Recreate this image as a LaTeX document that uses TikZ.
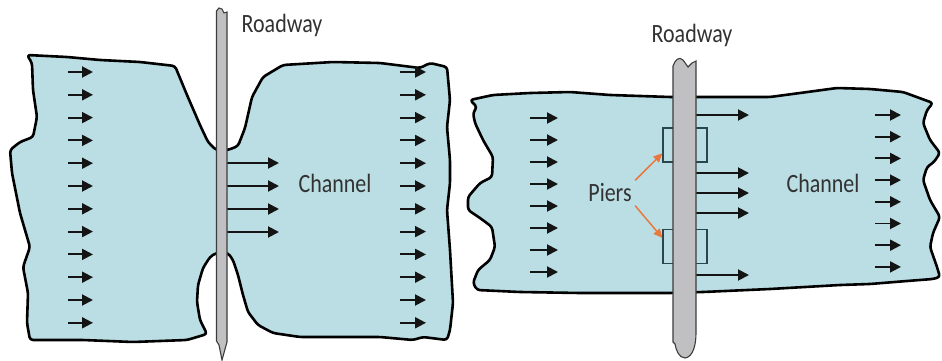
\documentclass[tikz,border=0pt]{standalone}
\usepackage{fontspec}
\setmainfont{Carlito}
\usepackage{graphicx}
\usetikzlibrary{positioning}
\usetikzlibrary{arrows.meta}

\definecolor{water}{RGB}{186,222,228}
\definecolor{roadgray}{RGB}{192,192,194}
\definecolor{roadedge}{RGB}{60,60,60}
\definecolor{pieredge}{RGB}{40,70,75}
\definecolor{flowink}{RGB}{20,20,20}
\definecolor{inkgray}{RGB}{50,50,50}
\definecolor{piersorange}{RGB}{232,120,60}

\newcommand{\tallword}[1]{\scalebox{1}[1.2]{#1}}

\tikzset{
  shore/.style={draw=black,line width=2.6pt,fill=water,rounded corners=3pt,line join=round},
  road/.style={draw=roadedge,line width=1.1pt,fill=roadgray},
  flow/.style={-{Triangle[length=11pt,width=11pt]},line width=1.9pt,draw=flowink},
  pier/.style={rectangle,draw=pieredge,line width=1.2pt,minimum width=44pt,minimum height=34pt,inner sep=0pt},
  tag/.style={text=inkgray,font=\fontsize{22}{24}\selectfont},
  pointer/.style={-{Triangle[length=9pt,width=8pt]},line width=1.5pt,draw=piersorange}
}

\begin{document}
\begin{tikzpicture}[x=1pt,y=-1pt]
  \useasboundingbox (0,0) rectangle (942,361);

  % contraction: channel narrowed by the embankments
  \draw[shore] (27,55) -- (67,57) -- (100,60) -- (140,62) -- (175,66) -- (187,95) -- (200,125) -- (208,142) -- (216,150)
    -- (228,150) -- (238,146) -- (245,128) -- (252,97) -- (263,77) -- (283,65) -- (333,62) -- (380,63) -- (420,68)
    -- (430,63) -- (447,67) -- (450,100) -- (447,127) -- (450,160) -- (450,183) -- (447,210) -- (450,250) -- (453,303)
    -- (450,330) -- (447,340) -- (423,337) -- (413,340) -- (380,337) -- (300,337) -- (273,333) -- (258,325) -- (248,312)
    -- (243,295) -- (238,275) -- (233,260) -- (228,253) -- (216,253) -- (210,257) -- (203,268) -- (198,285) -- (197,302)
    -- (200,320) -- (207,334) -- (187,340) -- (133,342) -- (83,340) -- (30,340) -- (27,323) -- (28,293) -- (23,267)
    -- (30,247) -- (20,213) -- (12,173) -- (10,150) -- (20,142) -- (33,137) -- (37,117) -- (33,90) -- (32,63) -- cycle;

  % obstruction: piers in the full channel
  \draw[shore] (470,100) -- (493,95) -- (530,93) -- (570,92) -- (610,95) -- (670,97) -- (770,97) -- (800,93) -- (837,88)
    -- (870,89) -- (903,92) -- (933,103) -- (927,110) -- (923,123) -- (930,140) -- (940,153) -- (934,162) -- (927,167)
    -- (923,180) -- (930,200) -- (940,217) -- (933,233) -- (930,247) -- (937,267) -- (940,277) -- (933,279) -- (907,281)
    -- (870,284) -- (840,285) -- (770,289) -- (703,292) -- (670,293) -- (580,293) -- (520,292) -- (477,290) -- (473,283)
    -- (478,270) -- (490,260) -- (495,247) -- (492,227) -- (480,218) -- (468,210) -- (468,197) -- (480,183) -- (492,177)
    -- (493,157) -- (483,140) -- (475,123) -- (473,113) -- (477,107) -- cycle;

  \node (pierTop) [pier] at (685,145) {};
  \node (pierBot) [pier,below=66pt of pierTop] {};

  % flow arrows
  \foreach \i in {0,...,11} {
    \draw[flow] (68,{72+22.8*\i}) -- (93,{72+22.8*\i});
    \draw[flow] (400,{72+22.8*\i}) -- (426,{72+22.8*\i});
  }
  \foreach \y in {163,186,209,232}
    \draw[flow] (226,\y) -- (279,\y);
  \foreach \i in {0,...,7} {
    \draw[flow] (530,{118+22*\i}) -- (558,{118+22*\i});
    \draw[flow] (875,{115+21.7*\i}) -- (901,{115+21.7*\i});
  }
  \foreach \y in {115,173,193,213,275}
    \draw[flow] (695,\y) -- (749,\y);

  % roadways
  \draw[road] (216.5,11) -- (216.5,341) -- (219,345) -- (222,360) -- (227,342) -- (227,12) -- (224,13) -- (222,9) -- (219,8) -- cycle;
  \draw[road] (673,66) .. controls (675,60) and (679,56) .. (683,60) -- (688,67) -- (692,63) -- (696,61) -- (696,333)
    .. controls (696,345) and (693,357) .. (685,358) .. controls (679,358) and (676,350) .. (675,344) -- (673,342) -- cycle;

  % labels
  \node (roadwayA) [tag] at (282,25) {\tallword{Roadway}};
  \node (roadwayB) [tag] at (692,35) {\tallword{Roadway}};
  \node (channelA) [tag] at (335,183) {\tallword{Channel}};
  \node (channelB) [tag] at (823,183) {\tallword{Channel}};
  \node (piers)    [tag] at (610,193) {\tallword{Piers}};

  \draw[pointer] (piers.north east) -- (pierTop.200);
  \draw[pointer] (piers.south east) -- (pierBot.160);
\end{tikzpicture}
\end{document}
